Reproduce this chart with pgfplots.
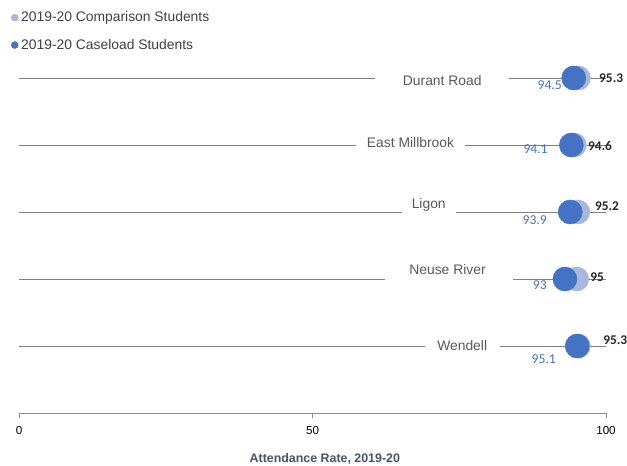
\documentclass[border=0pt]{standalone}
\usepackage{pgfplots}
\pgfplotsset{compat=1.18}
\usepackage{fontspec}
\setmainfont{Liberation Sans}
\newfontfamily\carlito{Carlito}
\definecolor{dark}{HTML}{4472C4}
\definecolor{light}{HTML}{A9B6DE}
\definecolor{lgray}{HTML}{808080}
\definecolor{axgray}{HTML}{8C8C8C}
\definecolor{txt}{HTML}{595959}
\definecolor{legtxt}{HTML}{404040}
\definecolor{xlab}{HTML}{44546A}
\definecolor{vallab}{HTML}{262626}
\begin{document}
\begin{tikzpicture}
\useasboundingbox (0,0) rectangle (470.25pt,348.75pt);
\begin{axis}[
  at={(14.25pt,39pt)}, anchor=south west,
  scale only axis, width=440.25pt, height=309.75pt,
  xmin=0, xmax=100, ymin=0, ymax=6.164,
  axis x line=bottom, axis y line=none,
  x axis line style={-, draw=axgray, line width=0.75pt},
  xtick={0,50,100}, xtick align=outside, major tick length=4pt,
  x tick style={draw=axgray, line width=0.75pt},
  /pgf/number format/assume math mode=true,
  xticklabel style={font=\fontsize{8.7}{10}\selectfont, text=black, yshift=-2.5pt},
  xlabel={Attendance Rate, 2019-20},
  xlabel style={at={(axis description cs:0.521,0)}, anchor=center, yshift=-34.5pt,
    font=\bfseries\fontsize{9.3}{11}\selectfont, text=xlab},
  clip=false,
  legend style={at={(axis description cs:-0.014,0.979)}, anchor=north west,
    draw=none, fill=none, font=\fontsize{10.4}{12}\selectfont, text=legtxt,
    row sep=7.5pt, cells={anchor=west}, inner sep=0pt},
  legend cell align=left,
]
\addlegendimage{legend image code/.code={\fill[light] (0pt,0pt) circle (2.6pt);}}
\addlegendentry{2019-20 Comparison Students}
\addlegendimage{legend image code/.code={\fill[dark] (0pt,0pt) circle (2.6pt);}}
\addlegendentry{2019-20 Caseload Students}

% row lines (broken around category labels)
\addplot[lgray, line width=0.7pt, forget plot] coordinates {(0,5) (60.6,5)};
\addplot[lgray, line width=0.7pt, forget plot] coordinates {(83.5,5) (100,5)};
\addplot[lgray, line width=0.7pt, forget plot] coordinates {(0,4) (57.4,4)};
\addplot[lgray, line width=0.7pt, forget plot] coordinates {(76.0,4) (100,4)};
\addplot[lgray, line width=0.7pt, forget plot] coordinates {(0,3) (65.2,3)};
\addplot[lgray, line width=0.7pt, forget plot] coordinates {(74.4,3) (100,3)};
\addplot[lgray, line width=0.7pt, forget plot] coordinates {(0,2) (62.4,2)};
\addplot[lgray, line width=0.7pt, forget plot] coordinates {(84.2,2) (100,2)};
\addplot[lgray, line width=0.7pt, forget plot] coordinates {(0,1) (69.2,1)};
\addplot[lgray, line width=0.7pt, forget plot] coordinates {(81.9,1) (100,1)};

% comparison students
\addplot[only marks, mark=*, mark size=9pt, color=light, mark options={draw=none, fill=light}, forget plot]
  coordinates {(95.3,5) (94.6,4) (95.2,3) (95,2) (95.3,1)};
% caseload students
\addplot[only marks, mark=*, mark size=9pt, color=dark, mark options={draw=none, fill=dark}, forget plot]
  coordinates {(94.5,5) (94.1,4) (93.9,3) (93,2) (95.1,1)};

% category labels
\begin{scope}[every node/.style={font=\fontsize{10.4}{12}\selectfont, text=txt, anchor=center}]
\node at (axis cs:72.1,4.955) {Durant Road};
\node at (axis cs:66.7,4.03) {East Millbrook};
\node at (axis cs:69.8,3.104) {Ligon};
\node at (axis cs:73.0,2.134) {Neuse River};
\node at (axis cs:75.5,1.0) {Wendell};
\end{scope}

% comparison value labels
\begin{scope}[every node/.style={font=\carlito\bfseries\fontsize{10}{11}\selectfont, text=vallab, anchor=west, inner sep=0pt}]
\node at (axis cs:98.8,5.0) {95.3};
\node at (axis cs:96.9,3.985) {94.6};
\node at (axis cs:98.1,3.09) {95.2};
\node at (axis cs:97.3,2.03) {95};
\node at (axis cs:99.5,1.09) {95.3};
\end{scope}

% caseload value labels
\begin{scope}[every node/.style={font=\carlito\fontsize{10.2}{11}\selectfont, text=dark, anchor=east, inner sep=0pt}]
\node at (axis cs:92.5,4.896) {94.5};
\node at (axis cs:90.1,3.94) {94.1};
\node at (axis cs:89.95,2.88) {93.9};
\node at (axis cs:89.95,1.91) {93};
\node at (axis cs:91.5,0.806) {95.1};
\end{scope}
\end{axis}
\end{tikzpicture}
\end{document}
